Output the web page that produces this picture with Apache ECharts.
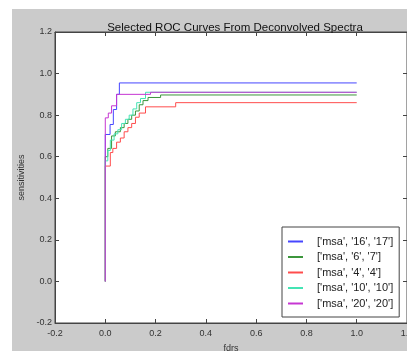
<!DOCTYPE html>
<html><head><meta charset="utf-8">
<script src="https://cdn.jsdelivr.net/npm/echarts@6/dist/echarts.min.js"></script>
<style>html,body{margin:0;padding:0;background:#fff}#c{width:407px;height:351px}</style>
</head><body><div id="c"></div>
<script>
const titleText = 'Selected ROC Curves From Deconvolved Spectra';
const xName = 'fdrs';
const yName = 'sensitivities';
const seriesNames = ["['msa', '16', '17']", "['msa', '6', '7']", "['msa', '4', '4']", "['msa', '10', '10']", "['msa', '20', '20']"];
const seriesColors = ['#4646ff', '#3c963c', '#ff4c4c', '#44e4b4', '#c636d2'];

const fdr16 = [0, 0, 0.019, 0.032, 0.045, 0.056, 1.0];
const sens16 = [0, 0.707, 0.755, 0.827, 0.90, 0.955, 0.955];
const fdr6 = [0, 0, 0.01, 0.025, 0.04, 0.06, 0.075, 0.09, 0.105, 0.12, 0.135, 0.15, 0.17, 0.22, 1.0];
const sens6 = [0, 0.6, 0.64, 0.70, 0.72, 0.74, 0.76, 0.78, 0.80, 0.82, 0.85, 0.87, 0.885, 0.897, 0.897];
const fdr4 = [0, 0, 0.02, 0.03, 0.045, 0.06, 0.075, 0.09, 0.105, 0.12, 0.135, 0.16, 0.28, 1.0];
const sens4 = [0, 0.555, 0.62, 0.64, 0.67, 0.69, 0.72, 0.74, 0.76, 0.79, 0.81, 0.84, 0.86, 0.86];
const fdr10 = [0, 0, 0.01, 0.02, 0.035, 0.05, 0.065, 0.08, 0.095, 0.11, 0.125, 0.14, 0.16, 1.0];
const sens10 = [0, 0.58, 0.63, 0.68, 0.71, 0.73, 0.76, 0.78, 0.80, 0.83, 0.86, 0.88, 0.91, 0.91];
const fdr20 = [0, 0, 0.012, 0.025, 0.045, 0.18, 1.0];
const sens20 = [0, 0.787, 0.81, 0.845, 0.90, 0.91, 0.91];

const xs = [fdr16, fdr6, fdr4, fdr10, fdr20];
const ys = [sens16, sens6, sens4, sens10, sens20];

const FONT = 'Liberation Sans';
const chart = echarts.init(document.getElementById('c'));
const axisCommon = {
  min: -0.2, max: 1.2, interval: 0.2,
  axisLine: {show: true, onZero: false, lineStyle: {color: '#444', width: 1}},
  axisTick: {show: true, inside: true, length: 4, lineStyle: {color: '#444'}},
  splitLine: {show: false},
  axisLabel: {color: '#333', fontFamily: FONT, fontSize: 9, formatter: v => v.toFixed(1)}
};
chart.setOption({
  animation: false,
  graphic: [{type: 'rect', z: -10, shape: {x: 12, y: 9, width: 395, height: 342}, style: {fill: '#cbcbcb'}}],
  title: {text: titleText, left: 230, top: 17, textAlign: 'center',
    textStyle: {fontFamily: FONT, fontSize: 11.5, fontWeight: 'normal', color: '#111'}},
  grid: {left: 55, top: 32, width: 352, height: 291, outerBoundsMode: 'none', containLabel: false,
    show: true, backgroundColor: '#fff', borderColor: '#444', borderWidth: 1},
  xAxis: [
    Object.assign({type: 'value', position: 'bottom', name: xName, nameLocation: 'middle', nameGap: 21,
      nameTextStyle: {fontFamily: FONT, fontSize: 9, color: '#333'}}, axisCommon,
      {axisLabel: Object.assign({}, axisCommon.axisLabel, {margin: 6, showMaxLabel: true})}),
    Object.assign({type: 'value', position: 'top'}, axisCommon, {axisLabel: {show: false}})
  ],
  yAxis: [
    Object.assign({type: 'value', position: 'left', name: yName, nameLocation: 'middle', nameGap: 24,
      nameTextStyle: {fontFamily: FONT, fontSize: 9, color: '#333'}}, axisCommon,
      {axisLabel: Object.assign({}, axisCommon.axisLabel, {margin: 3})}),
    Object.assign({type: 'value', position: 'right'}, axisCommon, {axisLabel: {show: false}})
  ],
  legend: {
    orient: 'vertical', left: 282, top: 227,
    padding: [9, 6, 8, 6], itemGap: 4.5, itemWidth: 15, itemHeight: 2, icon: 'rect',
    backgroundColor: '#fff', borderColor: '#444', borderWidth: 1,
    textStyle: {fontFamily: FONT, fontSize: 11, color: '#222', padding: [0, 0, 0, 9]},
    data: seriesNames
  },
  series: seriesNames.map((n, i) => ({
    name: n, type: 'line', step: 'end', showSymbol: false, symbol: 'none',
    color: seriesColors[i], lineStyle: {width: 1, color: seriesColors[i]},
    data: xs[i].map((x, j) => [x, ys[i][j]])
  }))
});
</script></body></html>
